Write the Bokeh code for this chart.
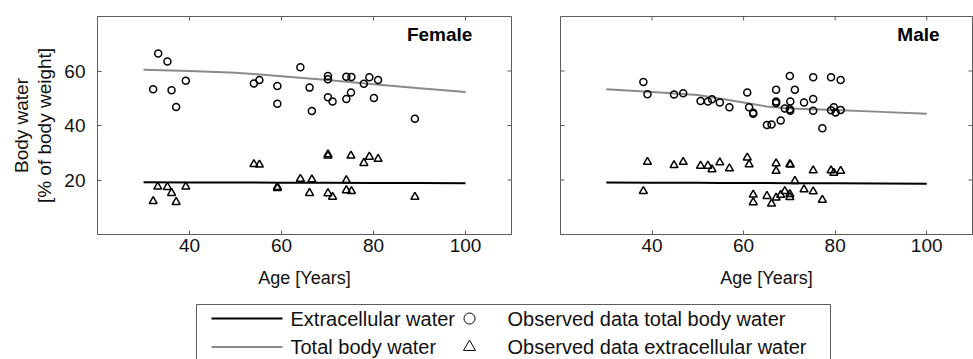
import math
from bokeh.plotting import figure
from bokeh.models import Range1d, FixedTicker, Label
from bokeh.layouts import column, row
from bokeh.embed import file_html
from bokeh.resources import INLINE
from bokeh.core.properties import value

# ---------------- data ----------------
x_ticks = [40, 60, 80, 100]
y_ticks = [20, 40, 60]
x_lim = [20, 110]
y_lim = [0, 80]

female_model_age = [30, 40, 50, 60, 70, 80, 90, 100]
female_tbw_model = [60.5, 60.0, 59.4, 58.1, 56.7, 55.1, 53.7, 52.3]
female_ecw_model = [19.2, 19.1, 19.1, 19.0, 19.0, 18.9, 18.9, 18.8]

male_model_age = [30, 40, 50, 55, 60, 65, 70, 80, 90, 100]
male_tbw_model = [53.3, 52.3, 51.2, 49.8, 48.4, 47.0, 46.2, 45.7, 45.0, 44.3]
male_ecw_model = [19.1, 19.0, 19.0, 18.9, 18.9, 18.9, 18.8, 18.8, 18.7, 18.6]

female_tbw_age = [32.1, 33.2, 35.2, 36.1, 37.1, 39.2, 54.0, 55.2, 59.1, 59.1, 64.1, 66.1, 66.6,
                  70.1, 70.1, 70.1, 71.1, 74.1, 75.2, 74.1, 75.1, 77.9, 79.1, 81.0, 80.1, 89.0]
female_tbw_obs = [53.3, 66.4, 63.5, 52.9, 46.8, 56.4, 55.4, 56.7, 54.5, 48.0, 61.4, 53.9, 45.3,
                  58.2, 57.0, 50.4, 48.8, 57.9, 57.8, 49.7, 52.1, 55.3, 57.7, 56.7, 50.1, 42.5]

female_ecw_age = [32.1, 33.1, 35.2, 36.1, 37.1, 39.2, 54.0, 55.2, 59.1, 59.1, 64.1, 66.6, 66.1,
                  70.1, 70.1, 70.1, 71.1, 74.1, 74.1, 75.2, 75.1, 77.9, 79.1, 81.0, 89.0]
female_ecw_obs = [12.2, 17.5, 17.4, 15.2, 11.9, 17.5, 25.8, 25.6, 17.4, 17.0, 20.4, 20.2, 15.2,
                  29.4, 28.9, 15.1, 13.8, 19.9, 16.2, 15.9, 28.9, 26.2, 28.5, 27.7, 13.8]

male_tbw_age = [38.1, 39.0, 44.8, 46.8, 50.6, 52.2, 53.1, 54.8, 56.9, 60.8, 61.2, 62.1, 62.1,
                65.1, 66.1, 68.1, 67.1, 67.1, 67.1, 69.0, 70.1, 70.2, 70.1, 70.2, 71.2, 73.2,
                75.2, 75.2, 75.2, 77.2, 79.1, 79.1, 79.7, 80.1, 81.2, 81.2]
male_tbw_obs = [56.0, 51.5, 51.4, 51.8, 49.0, 48.8, 49.6, 48.4, 46.7, 52.1, 46.7, 44.7, 44.3,
                40.2, 40.4, 41.8, 53.1, 48.8, 48.3, 46.2, 58.2, 48.8, 46.0, 45.4, 53.1, 48.4,
                57.7, 49.7, 45.4, 39.0, 57.7, 45.6, 46.7, 44.8, 56.7, 45.7]

male_ecw_age = [38.1, 39.0, 44.8, 46.8, 50.6, 52.2, 53.1, 54.8, 56.9, 60.8, 61.2, 62.1, 62.1,
                65.1, 66.1, 67.1, 67.1, 67.1, 68.1, 69.0, 70.1, 70.2, 70.1, 70.1, 71.2, 73.2,
                75.2, 75.2, 77.2, 79.1, 79.7, 81.2]
male_ecw_obs = [15.9, 26.6, 25.4, 26.6, 25.2, 25.2, 23.9, 26.4, 24.2, 28.2, 25.7, 14.6, 11.8,
                14.1, 11.3, 26.1, 23.3, 13.5, 14.5, 15.9, 25.8, 25.6, 14.8, 13.7, 19.6, 16.5,
                23.5, 15.8, 12.7, 23.5, 22.6, 23.3]

legend_lines = ["Extracellular water", "Total body water"]
legend_markers = ["Observed data total body water", "Observed data extracellular water"]
y_title = "Body water\n[% of body weight]"

# ---------------- style ----------------
FONT = "Liberation Sans"
AX = "#5c5c5c"
GRAY = "#8a8a8a"
TXT = "#111111"
TICK_FS = "19px"
LABEL_FS = "18px"
LEG_FS = "20px"
PANEL_H = 298


def inner_ticks(p, xs, ys, angle):
    # tick marks drawn on the frame edge (half clipped away -> inward ticks)
    p.scatter(xs, ys, marker="dash", angle=angle, size=8, line_color=AX, line_width=1)


def make_panel(width, min_left, title, title_x, show_yaxis):
    p = figure(width=width, height=PANEL_H, x_range=Range1d(*x_lim), y_range=Range1d(*y_lim),
               output_backend="svg", toolbar_location=None,
               min_border_left=min_left, min_border_right=1,
               min_border_top=16, min_border_bottom=PANEL_H - 16 - 218)
    p.xgrid.visible = False
    p.ygrid.visible = False
    p.outline_line_color = AX
    p.outline_line_width = 1

    axes = [(p.xaxis[0], x_ticks)]
    if show_yaxis:
        axes.append((p.yaxis[0], y_ticks))
    else:
        p.yaxis.visible = False
        inner_ticks(p, [x_lim[0]] * len(y_ticks), y_ticks, 0)
    for ax, ticks in axes:
        ax.ticker = FixedTicker(ticks=ticks)
        ax.major_tick_in = 4
        ax.major_tick_out = 0
        ax.minor_tick_in = 0
        ax.minor_tick_out = 0
        ax.axis_line_color = AX
        ax.major_tick_line_color = AX
        ax.major_label_text_font = FONT
        ax.major_label_text_font_size = TICK_FS
        ax.major_label_text_color = TXT
    p.xaxis.major_label_standoff = 4
    p.xaxis.axis_label = "Age [Years]"
    p.xaxis.axis_label_text_font = FONT
    p.xaxis.axis_label_text_font_size = LABEL_FS
    p.xaxis.axis_label_text_font_style = "normal"
    p.xaxis.axis_label_text_color = TXT
    p.xaxis.axis_label_standoff = 13
    if show_yaxis:
        p.yaxis.major_label_standoff = 12
        p.yaxis.axis_label = y_title
        p.yaxis.axis_label_text_font = FONT
        p.yaxis.axis_label_text_font_size = "19px"
        p.yaxis.axis_label_text_font_style = "normal"
        p.yaxis.axis_label_text_color = TXT
        p.yaxis.axis_label_standoff = 6
        p.yaxis.axis_label_text_line_height = 1.1

    # mirrored ticks on top and right edges
    inner_ticks(p, x_ticks, [y_lim[1]] * len(x_ticks), math.pi / 2)
    inner_ticks(p, [x_lim[1]] * len(y_ticks), y_ticks, 0)

    p.add_layout(Label(x=title_x, y=73.5, text=title, text_align="right",
                       text_baseline="alphabetic", text_font=FONT, text_font_size="19px",
                       text_font_style="bold", text_color="black"))
    return p


p1 = make_panel(512, 97, "Female", 101.5, True)
p2 = make_panel(461, 48, "Male", 102.8, False)

for p, ma, tbw_m, ecw_m, ta, to, ea, eo in (
        (p1, female_model_age, female_tbw_model, female_ecw_model,
         female_tbw_age, female_tbw_obs, female_ecw_age, female_ecw_obs),
        (p2, male_model_age, male_tbw_model, male_ecw_model,
         male_tbw_age, male_tbw_obs, male_ecw_age, male_ecw_obs)):
    p.line(ma, ecw_m, line_color="black", line_width=2)
    p.line(ma, tbw_m, line_color=GRAY, line_width=2)
    p.scatter(ta, to, marker="circle", size=7, fill_color=None, line_color="black", line_width=1.5)
    p.scatter(ea, eo, marker="triangle", size=8, fill_color=None, line_color="black", line_width=1.5)

# ---------------- legend panel (page pixel coordinates) ----------------
LEG_H = 359 - PANEL_H
leg = figure(width=973, height=LEG_H, x_range=Range1d(0, 973), y_range=Range1d(LEG_H, 0),
             output_backend="svg", toolbar_location=None, min_border=0)
leg.axis.visible = False
leg.xgrid.visible = False
leg.ygrid.visible = False
leg.outline_line_color = None
leg.quad(left=196, right=830, top=6, bottom=LEG_H + 3, fill_color=None, line_color=AX, line_width=1)
row_y = [20, 48.5]
leg.line([211, 282], [row_y[0], row_y[0]], line_color="black", line_width=2)
leg.line([211, 282], [row_y[1], row_y[1]], line_color=GRAY, line_width=2)
leg.text(x=[290, 290], y=row_y, text=legend_lines, text_font=value(FONT),
         text_font_size=LEG_FS, text_baseline="middle", text_color=TXT)
leg.scatter([469], [row_y[0]], marker="circle", size=11, fill_color=None, line_color="black", line_width=1)
leg.scatter([469], [row_y[1]], marker="triangle", size=12, fill_color=None, line_color="black", line_width=1)
leg.text(x=[507, 507], y=row_y, text=legend_markers, text_font=value(FONT),
         text_font_size=LEG_FS, text_baseline="middle", text_color=TXT)

layout = column(row(p1, p2, spacing=0), leg, spacing=0)
open("out.html", "w").write(file_html(layout, INLINE))
